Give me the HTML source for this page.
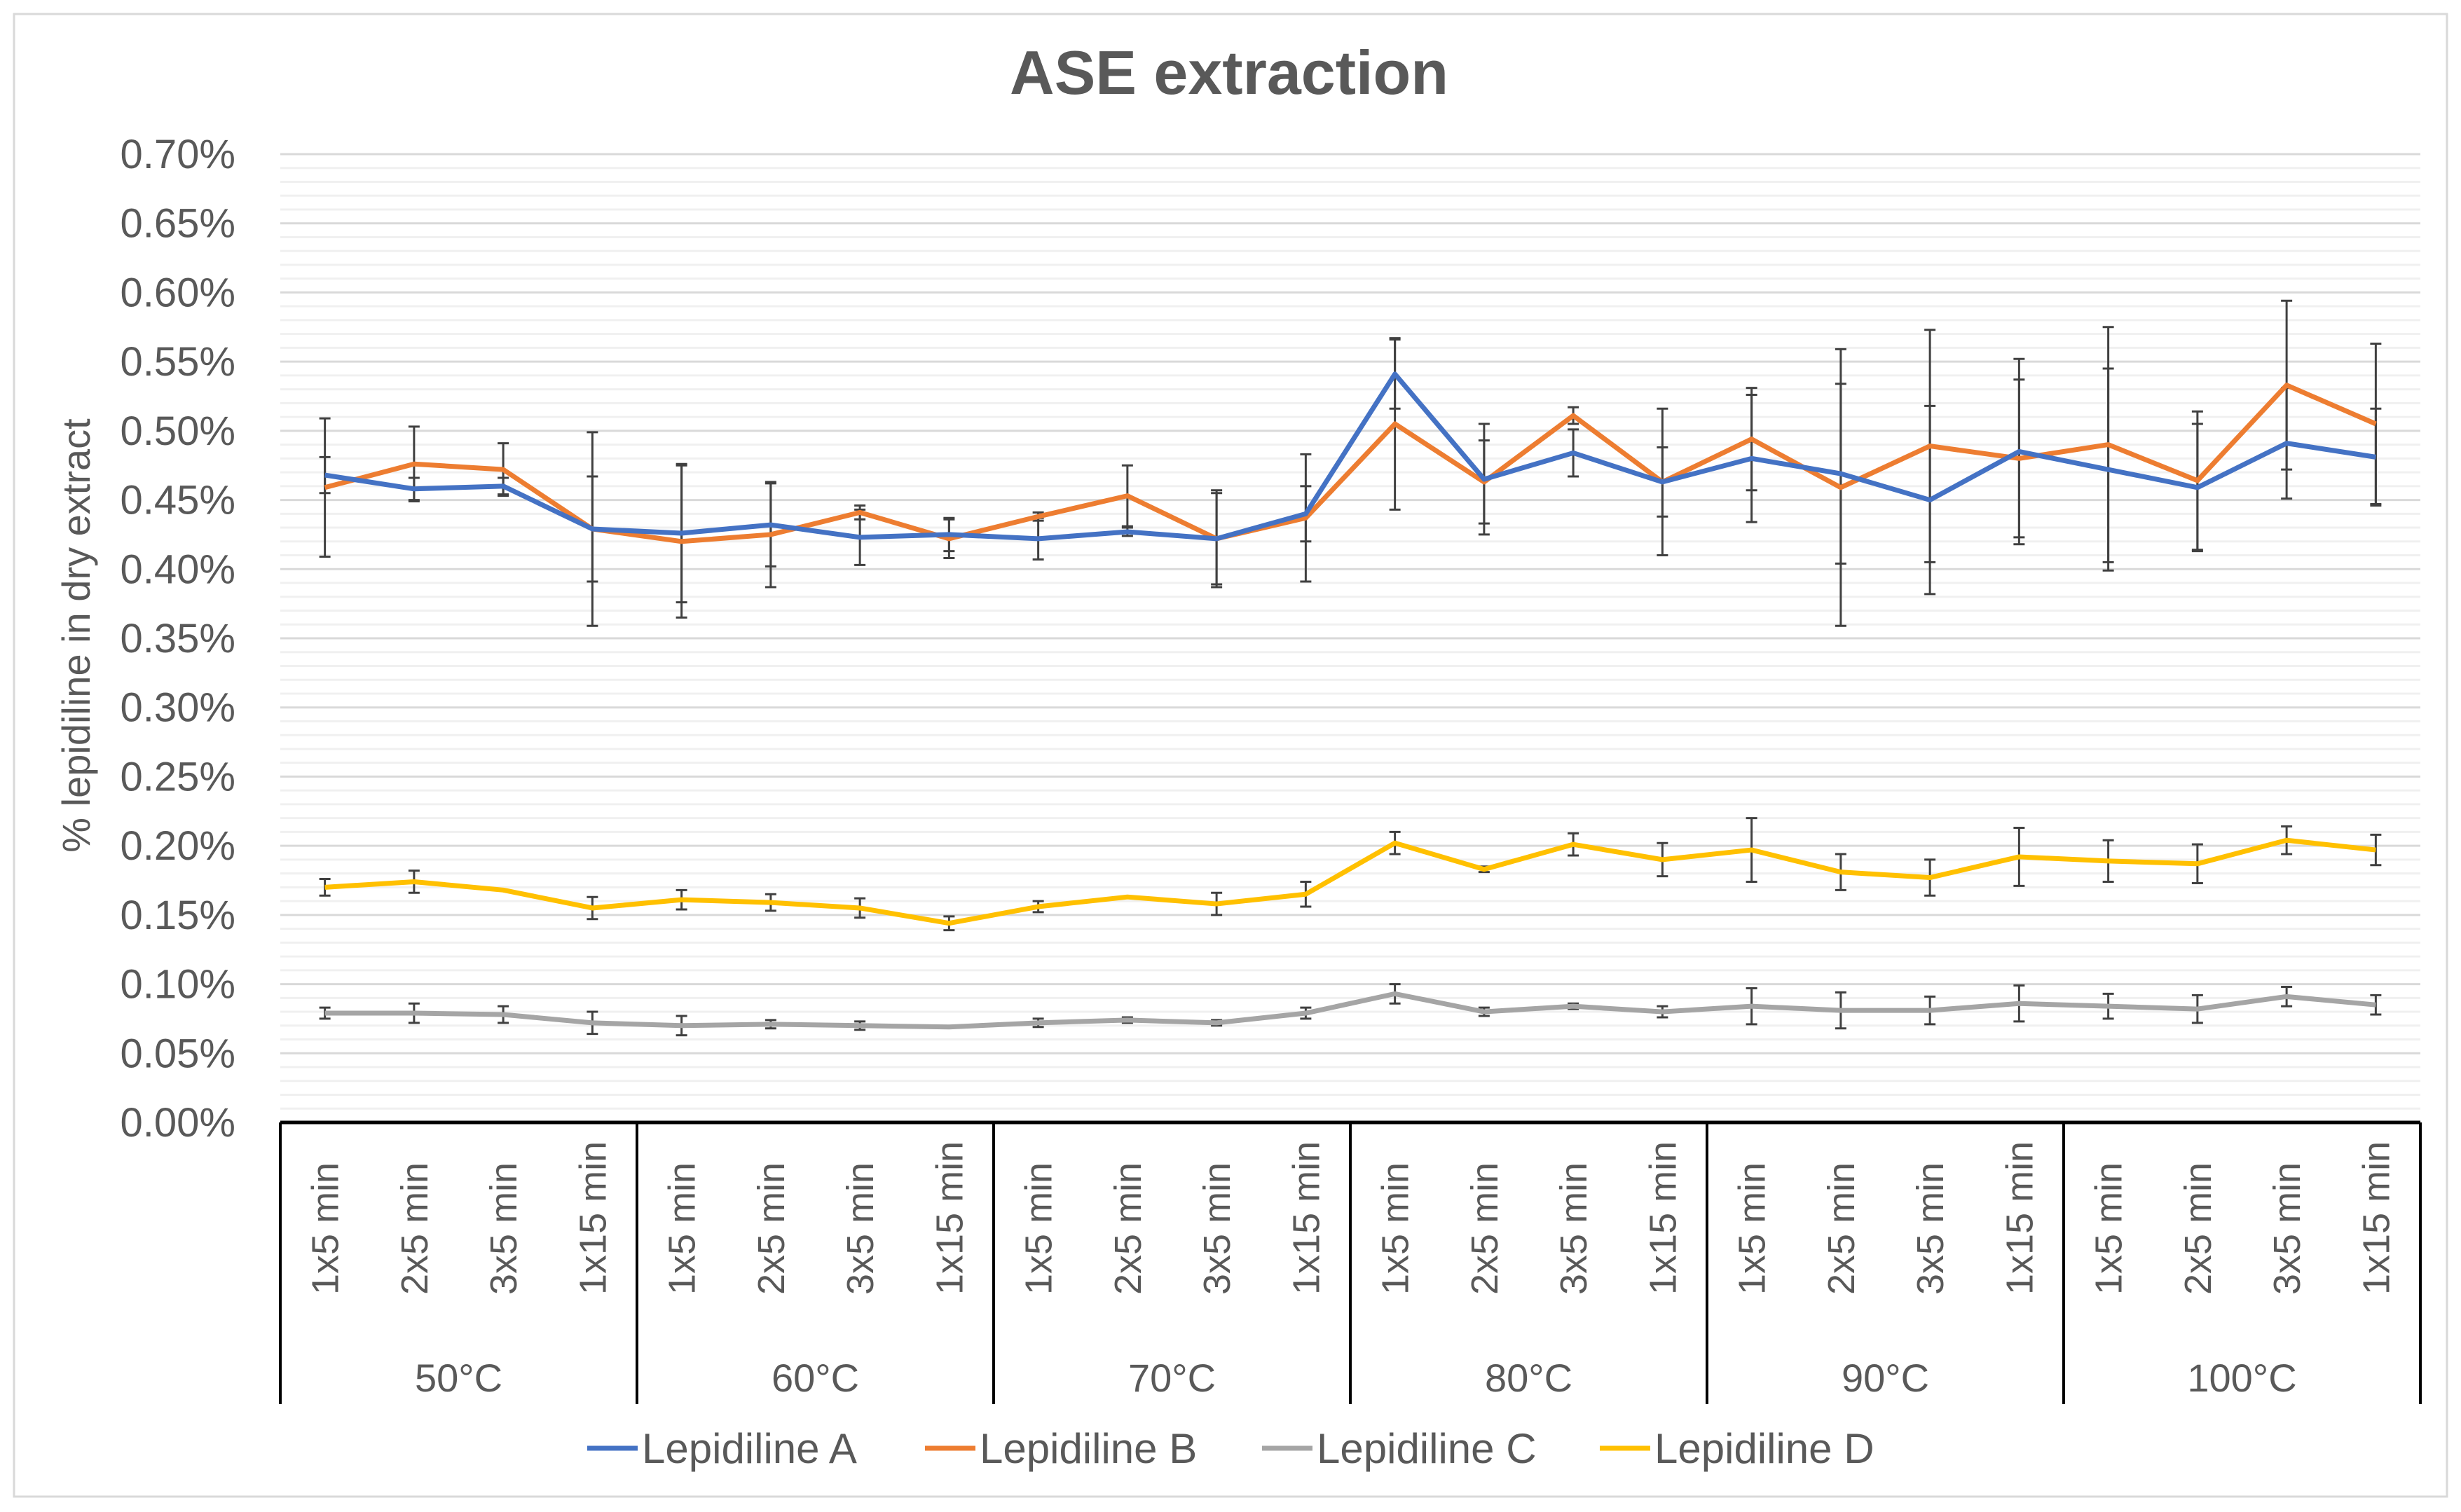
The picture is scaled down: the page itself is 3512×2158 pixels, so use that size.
<!DOCTYPE html>
<html><head><meta charset="utf-8"><style>
html,body{margin:0;padding:0;background:#fff;}
svg{display:block;font-family:"Liberation Sans","DejaVu Sans",sans-serif;}
</style></head><body>
<svg id="chart" width="3512" height="2158" viewBox="0 0 3512 2158" xmlns="http://www.w3.org/2000/svg">
<rect x="20" y="20" width="3472" height="2116" fill="#fff" stroke="#d9d9d9" stroke-width="3"/>
<text x="1754" y="134" text-anchor="middle" font-size="88" font-weight="bold" fill="#595959">ASE extraction</text>
<text transform="translate(128,907) rotate(-90)" text-anchor="middle" font-size="56" fill="#595959">% lepidiline in dry extract</text>
<g id="grid"></g><g id="yticks"></g><g id="errs"></g><g id="lines"></g><g id="xaxis"></g><g id="legend"></g>
</svg>
<script>
const categories=["1x5 min","2x5 min","3x5 min","1x15 min"];
const groups=["50°C","60°C","70°C","80°C","90°C","100°C"];
const yTicks=[0,0.05,0.10,0.15,0.20,0.25,0.30,0.35,0.40,0.45,0.50,0.55,0.60,0.65,0.70];
const seriesNames=["Lepidiline A","Lepidiline B","Lepidiline C","Lepidiline D"];
const seriesA=[0.468,0.458,0.46,0.429,0.426,0.432,0.423,0.425,0.422,0.427,0.422,0.44,0.541,0.465,0.484,0.463,0.48,0.469,0.45,0.485,0.472,0.459,0.491,0.481];
const errA=[0.013,0.008,0.006,0.038,0.05,0.03,0.02,0.012,0.015,0.003,0.033,0.02,0.025,0.04,0.017,0.025,0.046,0.065,0.068,0.067,0.073,0.046,0.04,0.035];
const seriesB=[0.459,0.476,0.472,0.429,0.42,0.425,0.441,0.422,0.438,0.453,0.422,0.437,0.505,0.463,0.511,0.463,0.494,0.459,0.489,0.48,0.49,0.464,0.533,0.505];
const errB=[0.05,0.027,0.019,0.07,0.055,0.038,0.005,0.014,0.003,0.022,0.035,0.046,0.062,0.03,0.006,0.053,0.037,0.1,0.084,0.057,0.085,0.05,0.061,0.058];
const seriesC=[0.079,0.079,0.078,0.072,0.070,0.071,0.070,0.069,0.072,0.074,0.072,0.079,0.093,0.080,0.084,0.080,0.084,0.081,0.081,0.086,0.084,0.082,0.091,0.085];
const errC=[0.004,0.007,0.006,0.008,0.007,0.003,0.003,0,0.003,0.002,0.002,0.004,0.007,0.003,0.002,0.004,0.013,0.013,0.01,0.013,0.009,0.01,0.007,0.007];
const seriesD=[0.170,0.174,0.168,0.155,0.161,0.159,0.155,0.144,0.156,0.163,0.158,0.165,0.202,0.183,0.201,0.190,0.197,0.181,0.177,0.192,0.189,0.187,0.204,0.197];
const errD=[0.006,0.008,0,0.008,0.007,0.006,0.007,0.005,0.004,0,0.008,0.009,0.008,0.002,0.008,0.012,0.023,0.013,0.013,0.021,0.015,0.014,0.01,0.011];

const NS="http://www.w3.org/2000/svg";
const L=400,R=3454,T=220,B=1602,YMAX=0.70;
const n=groups.length*categories.length, step=(R-L)/n;
const x=i=>L+step*(i+0.5);
const y=v=>B-(v/YMAX)*(B-T);
function mk(tag,attrs,parent){const e=document.createElementNS(NS,tag);for(const k in attrs)e.setAttribute(k,attrs[k]);parent.appendChild(e);return e;}
const g=id=>document.getElementById(id);

for(let k=1;k<70;k++){if(k%5===0)continue;const v=k*0.01;
 const ln=mk('line',{x1:L,x2:R,y1:y(v),y2:y(v),stroke:'#f0f0f0','stroke-width':3},g('grid'));
 
 }
yTicks.forEach(v=>{
 if(v>0){const ln=mk('line',{x1:L,x2:R,y1:y(v),y2:y(v),stroke:'#d9d9d9','stroke-width':3},g('grid'));
 
 }
 const t=mk('text',{x:336,y:y(v)+20,'text-anchor':'end','font-size':58,fill:'#595959'},g('yticks'));
 t.textContent=v.toFixed(2)+'%';
 
 
});
const all=[[seriesA,errA,'#4472C4'],[seriesB,errB,'#ED7D31'],[seriesC,errC,'#A5A5A5'],[seriesD,errD,'#FFC000']];
const drawOrder=[3,2,1,0];
all.forEach(([vals,errs],si)=>{vals.forEach((v,i)=>{const e=errs[i];if(e<=0)return;
 const gg=mk('g',{stroke:'#404040','stroke-width':3},g('errs'));
 
 
 mk('line',{x1:x(i),x2:x(i),y1:y(v-e),y2:y(v+e)},gg);
 mk('line',{x1:x(i)-8,x2:x(i)+8,y1:y(v-e),y2:y(v-e)},gg);
 mk('line',{x1:x(i)-8,x2:x(i)+8,y1:y(v+e),y2:y(v+e)},gg);
});});
drawOrder.forEach(si=>{const [vals,,col]=all[si];
 const p=mk('polyline',{points:vals.map((v,i)=>x(i)+','+y(v)).join(' '),fill:'none',stroke:col,'stroke-width':7,'stroke-linejoin':'round'},g('lines'));
 
 
});
const ax=mk('line',{x1:L,x2:R,y1:B,y2:B,stroke:'#000','stroke-width':5},g('xaxis'));


for(let k=0;k<=groups.length;k++){const xx=L+k*step*categories.length;
 const ln=mk('line',{x1:xx,x2:xx,y1:B,y2:2004,stroke:'#000','stroke-width':4},g('xaxis'));
 
 }
for(let i=0;i<n;i++){const c=categories[i%categories.length];
 const t=mk('text',{transform:`translate(${x(i)+19},1848) rotate(-90)`,'font-size':54,fill:'#595959'},g('xaxis'));
 t.textContent=c;
 
 }
groups.forEach((gr,k)=>{const t=mk('text',{x:L+(k+0.5)*step*categories.length,y:1986,'text-anchor':'middle','font-size':56,fill:'#595959'},g('xaxis'));
 t.textContent=gr;
 
 });
const lx=[838,1320,1801,2283];
seriesNames.forEach((s,k)=>{const gg=mk('g',{},g('legend'));
 
 
 mk('line',{x1:lx[k],x2:lx[k]+72,y1:2067,y2:2067,stroke:all[k][2],'stroke-width':7},gg);
 const t=mk('text',{x:lx[k]+78,y:2088,'font-size':60,fill:'#595959'},gg);t.textContent=s;});
</script>
</body></html>
